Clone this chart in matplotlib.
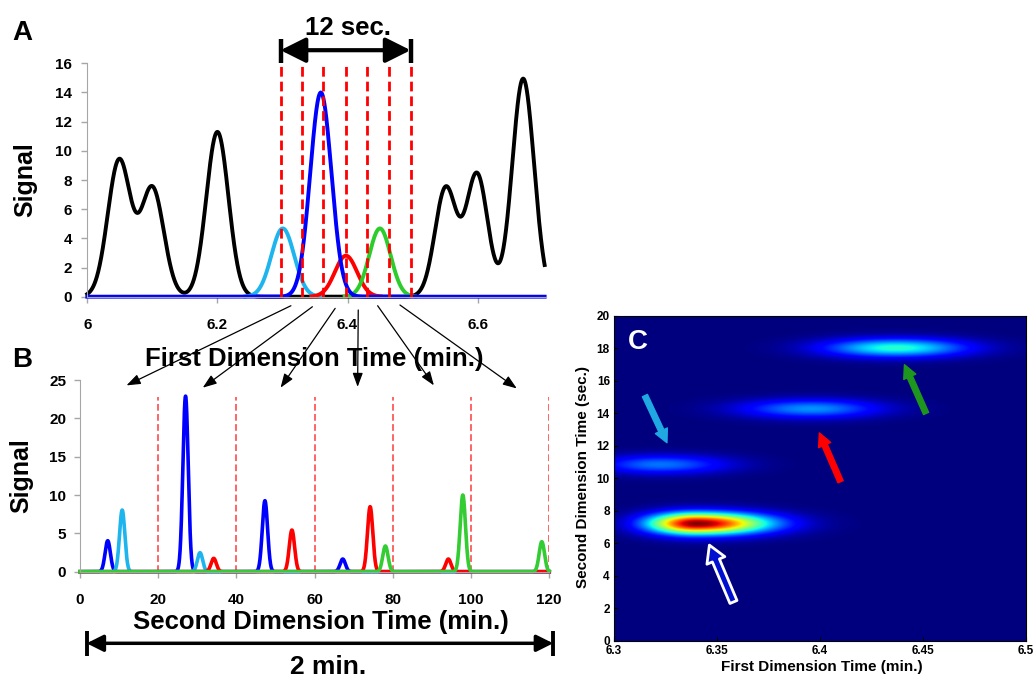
import numpy as np
import matplotlib.pyplot as plt
from matplotlib.patches import ConnectionPatch, FancyArrowPatch

plt.rcParams['font.family'] = ['Liberation Sans', 'DejaVu Sans']
plt.rcParams['font.weight'] = 'bold'
plt.rcParams['axes.labelweight'] = 'bold'

# ---- panel A: first dimension chromatogram (peak centre, height, width in min.)
a_black_t = [6.049, 6.100, 6.200, 6.551, 6.599, 6.670]
a_black_h = [9.35, 7.45, 11.3, 7.45, 8.4, 14.95]
a_black_w = [0.0175, 0.0175, 0.017, 0.0165, 0.0165, 0.0168]

a_comp_names = ["cyan", "red", "green", "blue"]
a_comp_t = [6.3005, 6.3976, 6.4498, 6.359]
a_comp_h = [4.68, 2.81, 4.68, 14.0]
a_comp_w = [0.0175, 0.017, 0.0165, 0.0163]

a_mod_edges = [6.297, 6.330, 6.363, 6.397, 6.430, 6.463, 6.497]

# ---- panel B: second dimension chromatogram (peak position, height)
b_blue_t = [7.1, 27.0, 47.3, 67.2]
b_blue_h = [4.04, 22.9, 9.26, 1.65]
b_cyan_t = [10.8, 30.7]
b_cyan_h = [8.04, 2.48]
b_red_t = [34.2, 54.2, 74.2, 94.2]
b_red_h = [1.74, 5.43, 8.48, 1.65]
b_green_t = [78.1, 97.9, 118.1]
b_green_h = [3.35, 10.0, 3.91]
b_width = 0.68
b_mod_edges = [20, 40, 60, 80, 100, 120]

# arrows linking each modulation of A to its slice in B
link_start_t = [6.313, 6.346, 6.381, 6.4165, 6.4463, 6.4806]
link_start_y = [-0.62, -0.69, -0.80, -0.91, -0.62, -0.57]
link_end_t = [11.9, 31.4, 51.3, 71.0, 90.5, 111.7]
link_end_y = [24.3, 24.0, 24.0, 24.1, 24.3, 23.9]

# ---- panel C: 2D contour blobs (x centre, y centre, amplitude, sx left, sx right, sy)
c_x = [6.340, 6.322, 6.396, 6.437]
c_y = [7.2, 10.83, 14.26, 18.0]
c_amp = [1.0, 0.24, 0.27, 0.40]
c_sxl = [0.016, 0.020, 0.024, 0.024]
c_sxr = [0.024, 0.023, 0.023, 0.024]
c_sy = [0.46, 0.40, 0.40, 0.40]

# arrows in C (tail -> head)
c_arrow_tail = [(6.315, 15.1), (6.410, 9.8), (6.4515, 14.0)]
c_arrow_head = [(6.3257, 12.2), (6.3997, 12.8), (6.441, 17.0)]
c_hollow_tail = (6.358, 2.4)
c_hollow_head = (6.3463, 5.9)


def peaks(t, centers, heights, widths):
    y = np.zeros_like(t)
    for c, h, w in zip(centers, heights, widths):
        y += h * np.exp(-(t - c) ** 2 / (2 * w ** 2))
    return y


def main():
    fig = plt.figure(figsize=(10.33, 6.78), dpi=100)
    axA = fig.add_axes([0.0845, 0.5624, 0.444, 0.3442])
    axB = fig.add_axes([0.0774, 0.1568, 0.4543, 0.2827])
    axC = fig.add_axes([0.5944, 0.0546, 0.3988, 0.4794])

    gray = "#a6a6a6"
    colors = {"cyan": "#1eb4ee", "blue": "#0000ff", "red": "#ff0000",
              "green": "#2ccc2c", "black": "black"}

    # ---------- A
    t = np.linspace(6.0, 6.703, 2000)
    axA.plot(t, peaks(t, a_black_t, a_black_h, a_black_w), color="black", lw=2.8, clip_on=False)
    for name, c, h, w in zip(a_comp_names, a_comp_t, a_comp_h, a_comp_w):
        y = h * np.exp(-(t - c) ** 2 / (2 * w ** 2))
        if name != "blue":
            y = np.where(y < 0.02, np.nan, y)
        axA.plot(t, y, color=colors[name], lw=2.8, clip_on=False)
    for e in a_mod_edges:
        axA.plot([e, e], [0, 15.9], color="#ff0000", lw=2.0, dashes=(3.5, 1.8), clip_on=False)

    axA.set_xlim(6.0, 6.705)
    axA.set_ylim(0, 16)
    axA.set_xticks([6.0, 6.2, 6.4, 6.6], ["6", "6.2", "6.4", "6.6"])
    axA.set_yticks(range(0, 17, 2))
    axA.tick_params(axis="both", labelsize=11, color=gray, length=4, width=1)
    axA.tick_params(axis="x", pad=11)
    axA.tick_params(axis="y", pad=7)
    for s in ["top", "right"]:
        axA.spines[s].set_visible(False)
    for s in ["left", "bottom"]:
        axA.spines[s].set_color(gray)
    axA.set_xlabel("First Dimension Time (min.)", fontsize=18.5, va="center")
    axA.xaxis.set_label_coords(0.495, -0.268)
    axA.set_ylabel("Signal", fontsize=18, va="center")
    axA.yaxis.set_label_coords(-0.135, 0.5)

    # 12 sec. bracket
    for e in [a_mod_edges[0], a_mod_edges[-1]]:
        axA.plot([e, e], [16.0, 17.65], color="black", lw=3.2, clip_on=False, solid_capstyle="butt")
    axA.annotate("", xy=(a_mod_edges[-1], 16.9), xytext=(a_mod_edges[0], 16.9),
                 arrowprops=dict(arrowstyle="<|-|>", lw=3.0, color="black",
                                 mutation_scale=38, shrinkA=0, shrinkB=0),
                 annotation_clip=False)
    axA.text(6.4007, 17.94, "12 sec.", fontsize=18.5, ha="center", va="baseline", clip_on=False)

    # ---------- B
    tb = np.linspace(0, 120, 4000)
    axB.plot(tb, peaks(tb, b_blue_t, b_blue_h, [b_width] * 4), color=colors["blue"], lw=2.6, clip_on=False)
    axB.plot(tb, peaks(tb, b_cyan_t, b_cyan_h, [b_width] * 2), color=colors["cyan"], lw=2.6, clip_on=False)
    axB.plot(tb, peaks(tb, b_red_t, b_red_h, [b_width] * 4), color=colors["red"], lw=2.6, clip_on=False)
    axB.plot(tb, peaks(tb, b_green_t, b_green_h, [b_width] * 3), color="#33cc33", lw=2.6, clip_on=False)
    for e in b_mod_edges:
        axB.plot([e, e], [0, 22.8], color="#ff3b3b", lw=1.1, dashes=(4.4, 2.2), zorder=1)

    axB.set_xlim(0, 120)
    axB.set_ylim(0, 25)
    axB.set_xticks(range(0, 121, 20))
    axB.set_yticks(range(0, 26, 5))
    axB.tick_params(axis="both", labelsize=11, color=gray, length=4, width=1)
    axB.tick_params(axis="x", pad=11)
    axB.tick_params(axis="y", pad=6)
    for s in ["top", "right"]:
        axB.spines[s].set_visible(False)
    for s in ["left", "bottom"]:
        axB.spines[s].set_color(gray)
    axB.set_xlabel("Second Dimension Time (min.)", fontsize=18.5, va="center")
    axB.xaxis.set_label_coords(0.514, -0.261)
    axB.set_ylabel("Signal", fontsize=18, va="center")
    axB.yaxis.set_label_coords(-0.124, 0.502)

    # 2 min. bracket
    for e in [1.71, 121.0]:
        axB.plot([e, e], [-7.8, -11.0], color="black", lw=2.8, clip_on=False, solid_capstyle="butt")
    axB.annotate("", xy=(121.0, -9.34), xytext=(1.71, -9.34),
                 arrowprops=dict(arrowstyle="<|-|>", lw=2.5, color="black",
                                 mutation_scale=25, shrinkA=0, shrinkB=0),
                 annotation_clip=False)
    axB.text(63.4, -13.4, "2 min.", fontsize=19, ha="center", va="baseline", clip_on=False)

    # ---------- C
    gx = np.linspace(6.3, 6.5, 500)
    gy = np.linspace(0, 20, 500)
    X, Y = np.meshgrid(gx, gy)
    Z = np.zeros_like(X)
    for x0, y0, a, sl, sr, sy in zip(c_x, c_y, c_amp, c_sxl, c_sxr, c_sy):
        sx = np.where(X < x0, sl, sr)
        Z += a * np.exp(-(X - x0) ** 2 / (2 * sx ** 2)) * np.exp(-(Y - y0) ** 2 / (2 * sy ** 2))
    axC.imshow(Z, origin="lower", extent=[6.3, 6.5, 0, 20], aspect="auto",
               cmap="jet", vmin=0, vmax=Z.max(), interpolation="bilinear")
    axC.set_xlim(6.3, 6.5)
    axC.set_ylim(0, 20)
    axC.set_xticks([6.3, 6.35, 6.4, 6.45, 6.5], ["6.3", "6.35", "6.4", "6.45", "6.5"])
    axC.set_yticks(range(0, 21, 2))
    axC.tick_params(axis="both", labelsize=8.5, direction="in", length=3, pad=3)
    for s in axC.spines.values():
        s.set_linewidth(0.8)
    axC.set_xlabel("First Dimension Time (min.)", fontsize=11, va="center")
    axC.xaxis.set_label_coords(0.505, -0.079)
    axC.set_ylabel("Second Dimension Time (sec.)", fontsize=11, va="center")
    axC.yaxis.set_label_coords(-0.0745, 0.503)
    axC.text(0.059, 0.921, "C", transform=axC.transAxes, color="white",
             fontsize=20, ha="center", va="center")

    arrow_cols = ["#1fa8e2", "#ff0000", "#1e961e"]
    for tail, head, col in zip(c_arrow_tail, c_arrow_head, arrow_cols):
        axC.add_patch(FancyArrowPatch(tail, head, color=col, mutation_scale=10, shrinkA=0, shrinkB=0,
                                      arrowstyle="simple,head_length=0.95,head_width=0.95,tail_width=0.4"))
    axC.add_patch(FancyArrowPatch(c_hollow_tail, c_hollow_head, facecolor="#0010d0", edgecolor="white",
                                  lw=2.0, mutation_scale=10, shrinkA=0, shrinkB=0,
                                  arrowstyle="simple,head_length=1.2,head_width=1.4,tail_width=0.55"))

    # ---------- links A -> B
    for xs, ys, xe, ye in zip(link_start_t, link_start_y, link_end_t, link_end_y):
        con = ConnectionPatch(xyA=(xs, ys), coordsA=axA.transData,
                              xyB=(xe, ye), coordsB=axB.transData,
                              arrowstyle="-|>,head_length=0.6,head_width=0.22",
                              mutation_scale=14, lw=0.9, color="black")
        fig.add_artist(con)

    # panel letters
    fig.text(0.0218, 0.941, "A", fontsize=20, ha="center", va="baseline")
    fig.text(0.0218, 0.4591, "B", fontsize=20, ha="center", va="baseline")

    fig.savefig("out.png", dpi=100)


if __name__ == "__main__":
    main()
